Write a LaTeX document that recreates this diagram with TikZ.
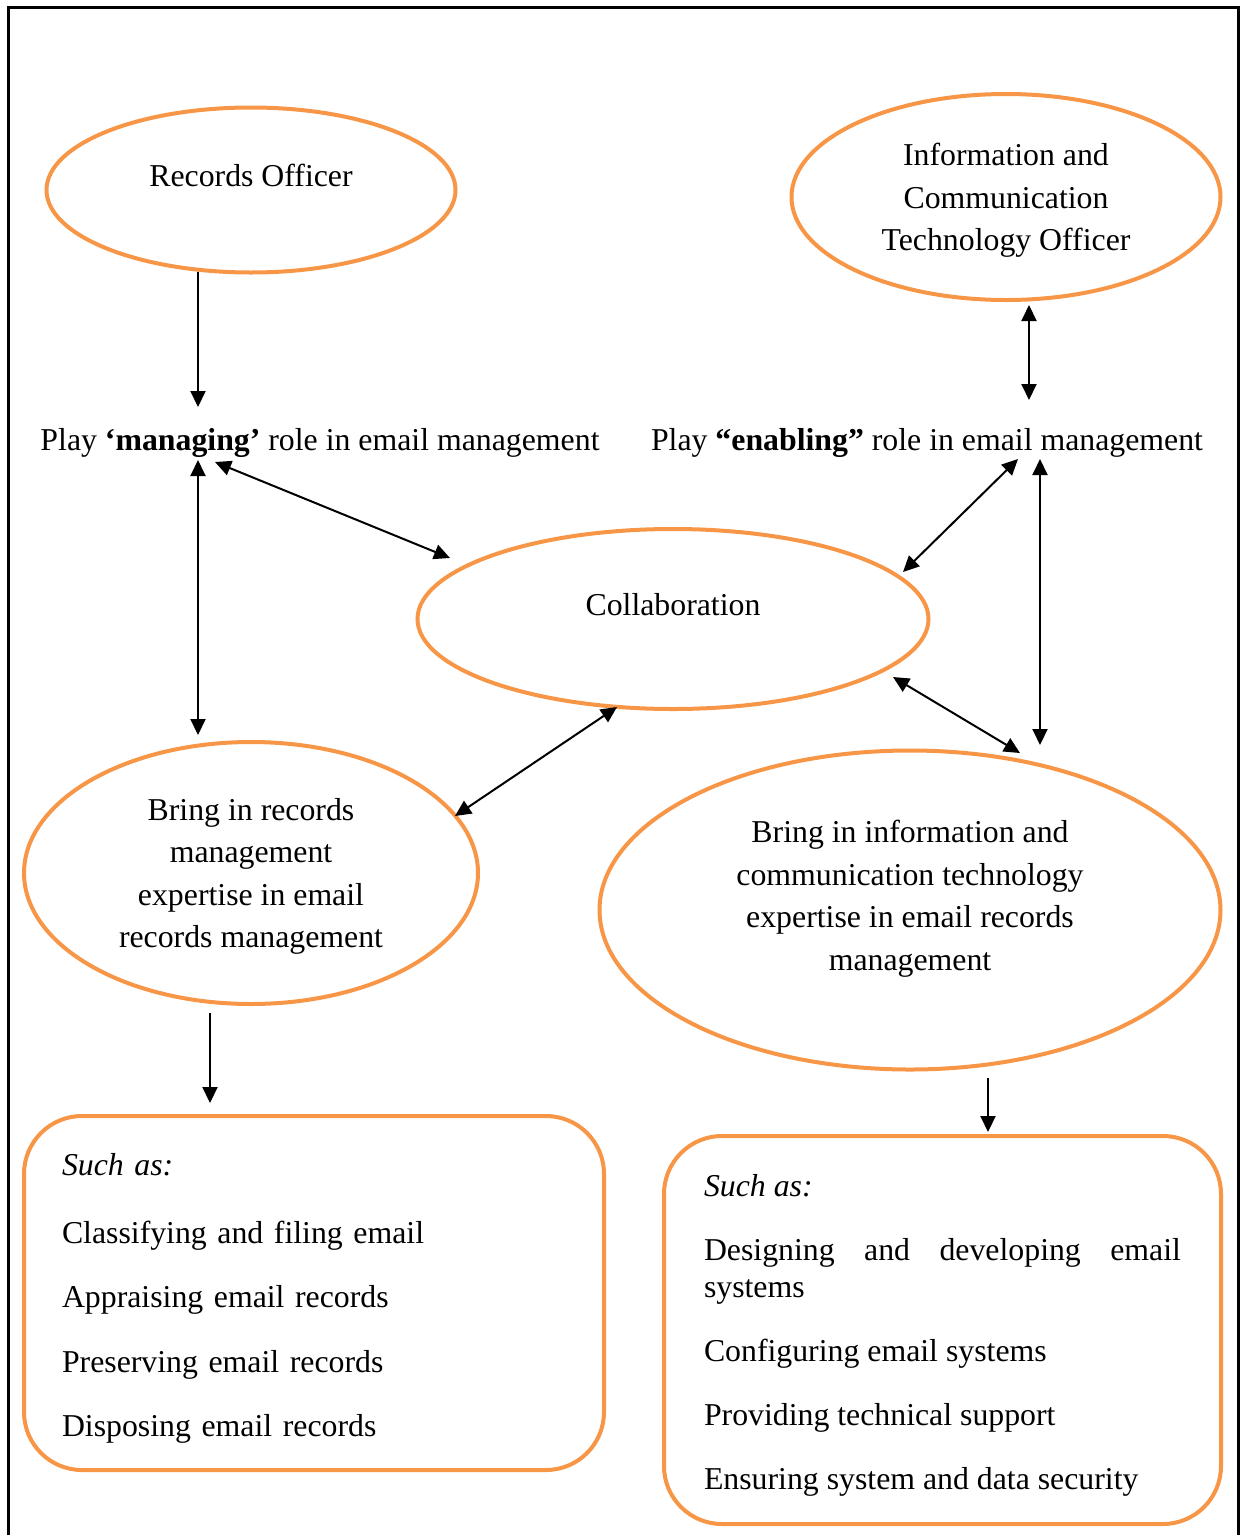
\documentclass[tikz,border=0pt]{standalone}
\usepackage{fontspec}
\setmainfont{Liberation Serif}
\usetikzlibrary{arrows.meta,shapes.geometric,calc}
\definecolor{roleorange}{RGB}{247,150,70}
\hyphenpenalty=10000
\exhyphenpenalty=10000

\begin{document}
\begin{tikzpicture}[x=1pt, y=-1pt,
  every node/.style = {font=\fontsize{31.8}{42.5}\selectfont},
  % common options for the ovals:
  oval/.style = {ellipse, draw=roleorange, line width=4pt, align=center,
              inner sep=0, outer sep=0},
  % common options for the two lists:
  listbox/.style = {draw=roleorange, line width=4pt, rounded corners=58pt,
              inner sep=0, outer sep=0, font=\fontsize{31.8}{36.5}\selectfont},
  % common options for the arrows:
  twoway/.style = {{Triangle[length=16pt,width=15pt]}-{Triangle[length=16pt,width=15pt]}, line width=2pt},
  oneway/.style = {-{Triangle[length=16pt,width=15pt]}, line width=2pt}]
  \useasboundingbox (0,0) rectangle (1242,1535);
  \draw[line width=3pt] (8,1545) -- (8,7) -- (1238,7) -- (1238,1545);
  % the two officers
  \node[oval, minimum width=409pt, minimum height=165pt, text depth=30pt] (rec) at (251,190) {Records Officer};
  \node[oval, minimum width=429pt, minimum height=206pt, text depth=-1pt] (ict) at (1006,197) {Information and\\Communication\\Technology Officer};
  % their roles
  \node (mng) at (320,443) {Play \textbf{‘managing’} role in email management};
  \node (enb) at (927,443) {Play \textbf{“enabling”} role in email management};
  \node[oval, minimum width=511pt, minimum height=180pt, text depth=30pt] (col) at (673,619) {Collaboration};
  \node[oval, minimum width=454pt, minimum height=262pt, text depth=-1pt] (rmx) at (251,873) {Bring in records\\management\\expertise in email\\records management};
  \node[oval, minimum width=621pt, minimum height=319pt, text depth=29pt] (tmx) at (910,910) {Bring in information and\\communication technology\\expertise in email records\\management};
  % the tasks
  \node[listbox, minimum width=580pt, minimum height=354pt, text width=504pt, align=left] (lst) at (314,1293) {\rule{0pt}{33pt}\textit{Such as:}\\[31pt] Classifying and filing email\\[28pt] Appraising email records\\[28pt] Preserving email records\\[28pt] Disposing email records};
  \node[listbox, minimum width=557pt, minimum height=388pt, text width=477pt, align=justify] (tls) at (942.5,1330) {\rule{0pt}{33pt}\textit{Such as:}\\[27.5pt] Designing and developing email systems\\[27.5pt] Configuring email systems\\[27.5pt] Providing technical support\\[27.5pt] Ensuring system and data security};
  % arrows
  \draw[oneway] ($(rec.center)+(-53,82)$) -- ($(mng.center)+(-122,-36)$);
  \draw[twoway] ($(ict.center)+(23,108)$) -- ($(enb.center)+(102,-43)$);
  \draw[twoway] ($(mng.center)+(-122,17)$) -- ($(rmx.center)+(-53,-138)$);
  \draw[twoway] ($(mng.center)+(-105,19)$) -- ($(col.center)+(-223,-61)$);
  \draw[twoway] ($(enb.center)+(91,16)$) -- ($(col.center)+(230,-47)$);
  \draw[twoway] ($(enb.center)+(113,16)$) -- ($(tmx.center)+(130,-165)$);
  \draw[twoway] ($(col.center)+(220,58)$) -- ($(tmx.center)+(110,-157)$);
  \draw[twoway] ($(col.center)+(-56,88)$) -- ($(rmx.center)+(204,-57)$);
  \draw[oneway] ($(rmx.center)+(-41,140)$) -- ($(lst.center)+(-104,-190)$);
  \draw[oneway] ($(tmx.center)+(78,168)$) -- ($(tls.center)+(45.5,-198)$);
\end{tikzpicture}
\end{document}
